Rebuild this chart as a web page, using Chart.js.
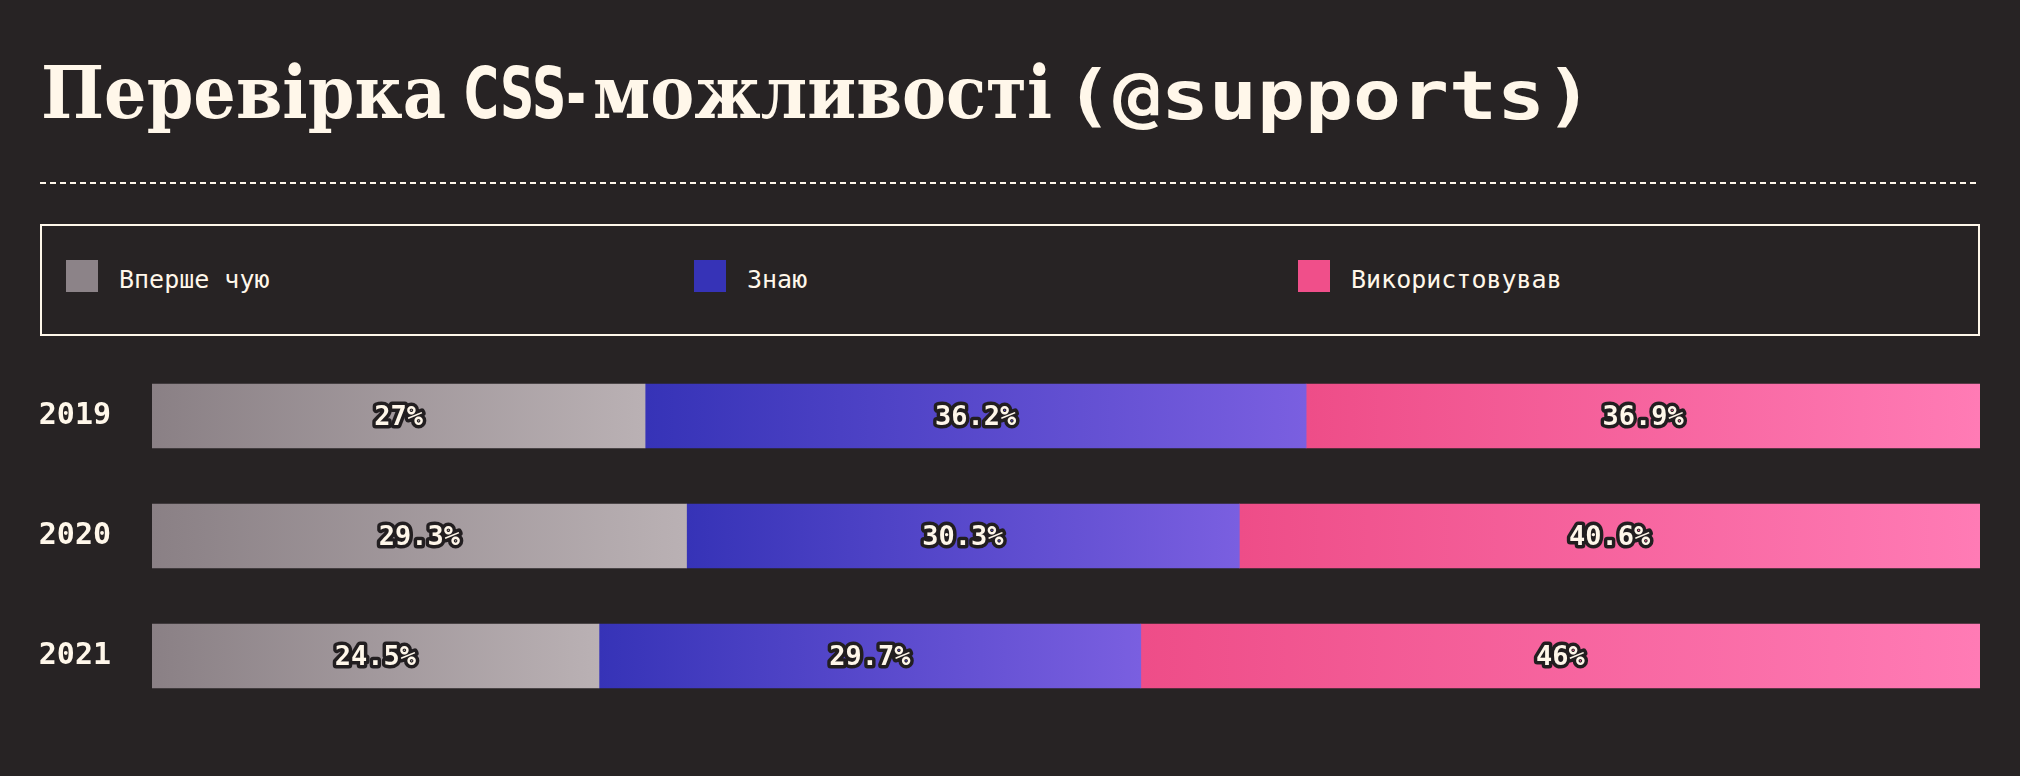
<!DOCTYPE html>
<html lang="uk">
<head>
<meta charset="utf-8">
<title>Перевірка CSS-можливості (@supports)</title>
<script src="https://cdn.jsdelivr.net/npm/chart.js@4.4.1/dist/chart.umd.min.js"></script>
<style>
  html, body { margin: 0; padding: 0; background: #272324; width: 2020px; height: 776px; overflow: hidden; }
  #overlay { position: absolute; left: 0; top: 0; width: 2020px; height: 776px; pointer-events: none; }
  #chartBox { position: absolute; left: 40px; top: 356px; width: 1940px; height: 360px; }
</style>
</head>
<body>
<svg id="overlay" xmlns="http://www.w3.org/2000/svg" width="2020" height="776">
  <g fill="#fff7ea">
    <text x="41" y="118" font-family="DejaVu Serif" font-weight="bold" font-size="72" textLength="405" lengthAdjust="spacingAndGlyphs">Перевірка</text>
    <text x="464" y="118" font-family="DejaVu Sans Condensed, DejaVu Sans" font-weight="bold" font-size="72" textLength="122" lengthAdjust="spacingAndGlyphs">CSS-</text>
    <text x="593" y="118" font-family="DejaVu Serif" font-weight="bold" font-size="72" textLength="459" lengthAdjust="spacingAndGlyphs">можливості</text>
    <text x="1065" y="119" font-family="DejaVu Sans Mono" font-weight="bold" font-size="68" textLength="528" lengthAdjust="spacingAndGlyphs">(@supports)</text>
  </g>
  <line x1="40" y1="183" x2="1980" y2="183" stroke="#fff7ea" stroke-width="2" stroke-dasharray="6 4"/>
  <rect x="41" y="225" width="1938" height="110" fill="none" stroke="#fff7ea" stroke-width="2"/>
  <g id="legend"></g>
</svg>
<div id="chartBox"><canvas id="chart"></canvas></div>
<script>
// ---- data ----
const categories = ['2019', '2020', '2021'];
const seriesNames = ['Вперше чую', 'Знаю', 'Використовував'];
const firstHeard = [27, 29.3, 24.5];
const know = [36.2, 30.3, 29.7];
const used = [36.9, 40.6, 46];

// ---- styles ----
const gradStart = ['#8a8085', '#3633b7', '#ee4d88'];
const gradEnd = ['#bab1b4', '#7a5fe0', '#ff7bb5'];
const legendColors = ['#8c8388', '#3633b7', '#f04f8a'];
const cream = '#fff7ea';
const legendX = [66, 694, 1298];

const rawSeries = [firstHeard, know, used];
// each row is drawn as shares of its own total (rows add up to slightly over 100)
const rowTotals = categories.map((_, j) => rawSeries.reduce((s, arr) => s + arr[j], 0));
const plotSeries = rawSeries.map(arr => arr.map((v, j) => v / rowTotals[j] * 100));

// legend (SVG, built from the series names)
const NS = 'http://www.w3.org/2000/svg';
const lg = document.getElementById('legend');
seriesNames.forEach((name, i) => {
  const r = document.createElementNS(NS, 'rect');
  r.setAttribute('x', legendX[i]); r.setAttribute('y', 260);
  r.setAttribute('width', 32); r.setAttribute('height', 32);
  r.setAttribute('fill', legendColors[i]);
  lg.appendChild(r);
  const t = document.createElementNS(NS, 'text');
  t.setAttribute('x', legendX[i] + 53); t.setAttribute('y', 288);
  t.setAttribute('font-family', 'DejaVu Sans Mono');
  t.setAttribute('font-size', 25);
  t.setAttribute('fill', cream);
  t.textContent = name;
  lg.appendChild(t);
});

function segGradient(ctx) {
  const chart = ctx.chart;
  const di = ctx.datasetIndex, i = ctx.dataIndex;
  const xs = chart.scales && chart.scales.x;
  if (!xs || i === undefined || !chart.chartArea) return gradStart[di];
  let start = 0;
  for (let k = 0; k < di; k++) start += chart.data.datasets[k].data[i];
  const end = start + chart.data.datasets[di].data[i];
  const x0 = xs.getPixelForValue(start);
  const x1 = Math.min(xs.getPixelForValue(end), chart.chartArea.right);
  const g = chart.ctx.createLinearGradient(x0, 0, x1, 0);
  g.addColorStop(0, gradStart[di]);
  g.addColorStop(1, gradEnd[di]);
  return g;
}

const valueLabels = {
  id: 'valueLabels',
  afterDatasetsDraw(chart) {
    const c = chart.ctx;
    const area = chart.chartArea;
    c.save();
    c.font = 'bold 27px "DejaVu Sans Mono"';
    c.textAlign = 'center';
    c.textBaseline = 'middle';
    c.lineJoin = 'round';
    c.lineWidth = 7;
    c.strokeStyle = '#221e20';
    c.fillStyle = cream;
    chart.data.datasets.forEach((ds, di) => {
      const meta = chart.getDatasetMeta(di);
      meta.data.forEach((bar, j) => {
        const p = bar.getProps(['x', 'base', 'y'], true);
        const right = Math.min(Math.max(p.x, p.base), area.right);
        const left = Math.min(p.x, p.base);
        const cx = (left + right) / 2;
        const txt = rawSeries[di][j] + '%';
        c.strokeText(txt, cx, p.y + 2);
        c.fillText(txt, cx, p.y + 2);
      });
    });
    c.restore();
  }
};

new Chart(document.getElementById('chart'), {
  type: 'bar',
  data: {
    labels: categories,
    datasets: seriesNames.map((name, i) => ({
      label: name,
      data: plotSeries[i],
      backgroundColor: segGradient,
      borderWidth: 0,
      barThickness: 64
    }))
  },
  options: {
    indexAxis: 'y',
    responsive: true,
    maintainAspectRatio: false,
    animation: false,
    layout: { padding: 0 },
    plugins: { legend: { display: false }, tooltip: { enabled: false }, title: { display: false } },
    scales: {
      x: { stacked: true, min: 0, max: 100, display: false },
      y: {
        stacked: true,
        grid: { display: false, drawTicks: false },
        border: { display: false },
        ticks: {
          color: cream,
          padding: 41,
          font: { family: 'DejaVu Sans Mono', weight: 'bold', size: 30 }
        },
        afterFit(scale) {
          scale.width = 112;
          scale.paddingTop = 0;
          scale.paddingBottom = 0;
        }
      }
    }
  },
  plugins: [valueLabels]
});
</script>
</body>
</html>
